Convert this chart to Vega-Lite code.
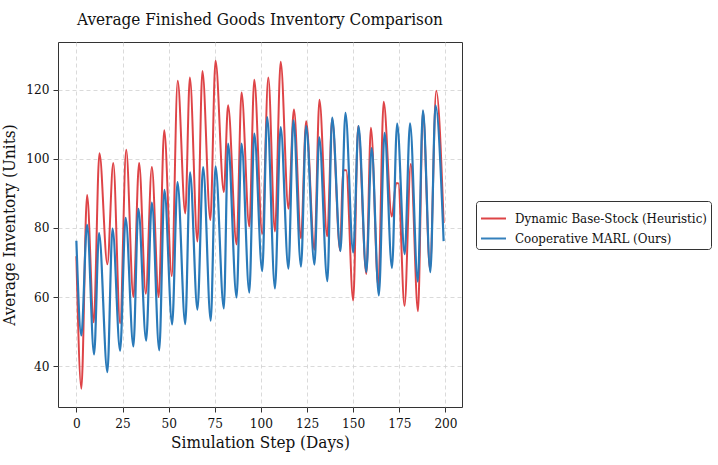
{
  "$schema": "https://vega.github.io/schema/vega-lite/v6.json",
  "width": 404,
  "height": 365,
  "autosize": {"type": "none"},
  "padding": {"left": 58, "top": 42, "right": 256, "bottom": 58},
  "background": "white",
  "title": {"text": "Average Finished Goods Inventory Comparison", "font": "DejaVu Serif Condensed, DejaVu Serif", "fontSize": 17, "fontWeight": "normal", "color": "#111", "anchor": "middle", "offset": 13},
  "config": {
    "view": {"stroke": "#333", "strokeWidth": 1},
    "font": "DejaVu Serif Condensed, DejaVu Serif",
    "axis": {"labelFont": "DejaVu Serif Condensed, DejaVu Serif", "titleFont": "DejaVu Serif Condensed, DejaVu Serif", "labelFontSize": 13.5, "titleFontSize": 17, "titleFontWeight": "normal", "labelColor": "#111", "titleColor": "#111", "grid": true, "gridDash": [4, 3], "gridColor": "#d0d0d0", "gridWidth": 0.8, "domain": false, "tickColor": "#333", "tickSize": 5, "labelPadding": 4}
  },
  "data": {"values": [
    {"step": 0, "value": 71.8, "series": "Dynamic Base-Stock (Heuristic)"},
    {"step": 2.7, "value": 33.5, "series": "Dynamic Base-Stock (Heuristic)"},
    {"step": 5.8, "value": 89.5, "series": "Dynamic Base-Stock (Heuristic)"},
    {"step": 9.4, "value": 52.7, "series": "Dynamic Base-Stock (Heuristic)"},
    {"step": 12.5, "value": 101.6, "series": "Dynamic Base-Stock (Heuristic)"},
    {"step": 16.8, "value": 69.5, "series": "Dynamic Base-Stock (Heuristic)"},
    {"step": 20.0, "value": 98.8, "series": "Dynamic Base-Stock (Heuristic)"},
    {"step": 23.7, "value": 52.4, "series": "Dynamic Base-Stock (Heuristic)"},
    {"step": 27.0, "value": 102.6, "series": "Dynamic Base-Stock (Heuristic)"},
    {"step": 30.9, "value": 60.0, "series": "Dynamic Base-Stock (Heuristic)"},
    {"step": 34.0, "value": 98.8, "series": "Dynamic Base-Stock (Heuristic)"},
    {"step": 37.6, "value": 61.0, "series": "Dynamic Base-Stock (Heuristic)"},
    {"step": 40.9, "value": 97.6, "series": "Dynamic Base-Stock (Heuristic)"},
    {"step": 44.6, "value": 60.0, "series": "Dynamic Base-Stock (Heuristic)"},
    {"step": 47.6, "value": 108.3, "series": "Dynamic Base-Stock (Heuristic)"},
    {"step": 51.7, "value": 66.1, "series": "Dynamic Base-Stock (Heuristic)"},
    {"step": 54.9, "value": 122.6, "series": "Dynamic Base-Stock (Heuristic)"},
    {"step": 59.0, "value": 84.2, "series": "Dynamic Base-Stock (Heuristic)"},
    {"step": 61.5, "value": 123.5, "series": "Dynamic Base-Stock (Heuristic)"},
    {"step": 65.6, "value": 76.1, "series": "Dynamic Base-Stock (Heuristic)"},
    {"step": 68.3, "value": 125.4, "series": "Dynamic Base-Stock (Heuristic)"},
    {"step": 72.6, "value": 82.3, "series": "Dynamic Base-Stock (Heuristic)"},
    {"step": 75.4, "value": 128.4, "series": "Dynamic Base-Stock (Heuristic)"},
    {"step": 79.9, "value": 90.4, "series": "Dynamic Base-Stock (Heuristic)"},
    {"step": 82.2, "value": 115.5, "series": "Dynamic Base-Stock (Heuristic)"},
    {"step": 86.8, "value": 75.2, "series": "Dynamic Base-Stock (Heuristic)"},
    {"step": 89.5, "value": 119.2, "series": "Dynamic Base-Stock (Heuristic)"},
    {"step": 93.7, "value": 80.4, "series": "Dynamic Base-Stock (Heuristic)"},
    {"step": 96.4, "value": 122.9, "series": "Dynamic Base-Stock (Heuristic)"},
    {"step": 100.7, "value": 78.3, "series": "Dynamic Base-Stock (Heuristic)"},
    {"step": 104.0, "value": 123.5, "series": "Dynamic Base-Stock (Heuristic)"},
    {"step": 107.6, "value": 79.0, "series": "Dynamic Base-Stock (Heuristic)"},
    {"step": 110.7, "value": 128.1, "series": "Dynamic Base-Stock (Heuristic)"},
    {"step": 114.9, "value": 85.6, "series": "Dynamic Base-Stock (Heuristic)"},
    {"step": 117.9, "value": 114.3, "series": "Dynamic Base-Stock (Heuristic)"},
    {"step": 121.7, "value": 77.0, "series": "Dynamic Base-Stock (Heuristic)"},
    {"step": 124.5, "value": 110.9, "series": "Dynamic Base-Stock (Heuristic)"},
    {"step": 129.0, "value": 73.7, "series": "Dynamic Base-Stock (Heuristic)"},
    {"step": 131.7, "value": 117.1, "series": "Dynamic Base-Stock (Heuristic)"},
    {"step": 135.9, "value": 77.6, "series": "Dynamic Base-Stock (Heuristic)"},
    {"step": 138.6, "value": 111.5, "series": "Dynamic Base-Stock (Heuristic)"},
    {"step": 142.9, "value": 73.5, "series": "Dynamic Base-Stock (Heuristic)"},
    {"step": 144.5, "value": 96.7, "series": "Dynamic Base-Stock (Heuristic)"},
    {"step": 146.2, "value": 96.7, "series": "Dynamic Base-Stock (Heuristic)"},
    {"step": 150.0, "value": 59.0, "series": "Dynamic Base-Stock (Heuristic)"},
    {"step": 152.7, "value": 109.5, "series": "Dynamic Base-Stock (Heuristic)"},
    {"step": 157.1, "value": 66.7, "series": "Dynamic Base-Stock (Heuristic)"},
    {"step": 159.6, "value": 109.0, "series": "Dynamic Base-Stock (Heuristic)"},
    {"step": 163.6, "value": 63.0, "series": "Dynamic Base-Stock (Heuristic)"},
    {"step": 166.5, "value": 116.5, "series": "Dynamic Base-Stock (Heuristic)"},
    {"step": 170.9, "value": 83.3, "series": "Dynamic Base-Stock (Heuristic)"},
    {"step": 173.3, "value": 92.9, "series": "Dynamic Base-Stock (Heuristic)"},
    {"step": 174.4, "value": 92.9, "series": "Dynamic Base-Stock (Heuristic)"},
    {"step": 177.8, "value": 57.5, "series": "Dynamic Base-Stock (Heuristic)"},
    {"step": 181.2, "value": 98.5, "series": "Dynamic Base-Stock (Heuristic)"},
    {"step": 185.1, "value": 55.9, "series": "Dynamic Base-Stock (Heuristic)"},
    {"step": 187.8, "value": 113.8, "series": "Dynamic Base-Stock (Heuristic)"},
    {"step": 191.6, "value": 68.0, "series": "Dynamic Base-Stock (Heuristic)"},
    {"step": 195.0, "value": 119.7, "series": "Dynamic Base-Stock (Heuristic)"},
    {"step": 199.0, "value": 81.4, "series": "Dynamic Base-Stock (Heuristic)"},
    {"step": 0, "value": 76.3, "series": "Cooperative MARL (Ours)"},
    {"step": 2.7, "value": 48.9, "series": "Cooperative MARL (Ours)"},
    {"step": 5.8, "value": 80.9, "series": "Cooperative MARL (Ours)"},
    {"step": 9.6, "value": 43.4, "series": "Cooperative MARL (Ours)"},
    {"step": 12.3, "value": 78.5, "series": "Cooperative MARL (Ours)"},
    {"step": 16.8, "value": 38.3, "series": "Cooperative MARL (Ours)"},
    {"step": 19.6, "value": 79.8, "series": "Cooperative MARL (Ours)"},
    {"step": 23.7, "value": 44.5, "series": "Cooperative MARL (Ours)"},
    {"step": 26.7, "value": 82.9, "series": "Cooperative MARL (Ours)"},
    {"step": 30.9, "value": 45.7, "series": "Cooperative MARL (Ours)"},
    {"step": 33.6, "value": 85.5, "series": "Cooperative MARL (Ours)"},
    {"step": 37.8, "value": 47.4, "series": "Cooperative MARL (Ours)"},
    {"step": 40.9, "value": 87.3, "series": "Cooperative MARL (Ours)"},
    {"step": 44.9, "value": 44.6, "series": "Cooperative MARL (Ours)"},
    {"step": 47.7, "value": 91.0, "series": "Cooperative MARL (Ours)"},
    {"step": 51.9, "value": 52.1, "series": "Cooperative MARL (Ours)"},
    {"step": 54.8, "value": 93.3, "series": "Cooperative MARL (Ours)"},
    {"step": 59.0, "value": 52.2, "series": "Cooperative MARL (Ours)"},
    {"step": 61.6, "value": 96.1, "series": "Cooperative MARL (Ours)"},
    {"step": 65.6, "value": 56.4, "series": "Cooperative MARL (Ours)"},
    {"step": 68.7, "value": 97.6, "series": "Cooperative MARL (Ours)"},
    {"step": 72.8, "value": 53.2, "series": "Cooperative MARL (Ours)"},
    {"step": 75.4, "value": 97.8, "series": "Cooperative MARL (Ours)"},
    {"step": 79.9, "value": 56.7, "series": "Cooperative MARL (Ours)"},
    {"step": 82.2, "value": 104.4, "series": "Cooperative MARL (Ours)"},
    {"step": 86.8, "value": 59.9, "series": "Cooperative MARL (Ours)"},
    {"step": 89.5, "value": 104.4, "series": "Cooperative MARL (Ours)"},
    {"step": 93.7, "value": 61.3, "series": "Cooperative MARL (Ours)"},
    {"step": 96.4, "value": 107.3, "series": "Cooperative MARL (Ours)"},
    {"step": 100.7, "value": 67.5, "series": "Cooperative MARL (Ours)"},
    {"step": 103.4, "value": 112.1, "series": "Cooperative MARL (Ours)"},
    {"step": 107.6, "value": 62.5, "series": "Cooperative MARL (Ours)"},
    {"step": 110.7, "value": 109.2, "series": "Cooperative MARL (Ours)"},
    {"step": 114.9, "value": 68.2, "series": "Cooperative MARL (Ours)"},
    {"step": 117.6, "value": 111.1, "series": "Cooperative MARL (Ours)"},
    {"step": 121.7, "value": 68.8, "series": "Cooperative MARL (Ours)"},
    {"step": 124.5, "value": 109.5, "series": "Cooperative MARL (Ours)"},
    {"step": 129.0, "value": 69.4, "series": "Cooperative MARL (Ours)"},
    {"step": 131.6, "value": 106.2, "series": "Cooperative MARL (Ours)"},
    {"step": 136.0, "value": 64.6, "series": "Cooperative MARL (Ours)"},
    {"step": 138.6, "value": 111.9, "series": "Cooperative MARL (Ours)"},
    {"step": 143.1, "value": 73.3, "series": "Cooperative MARL (Ours)"},
    {"step": 145.8, "value": 113.3, "series": "Cooperative MARL (Ours)"},
    {"step": 150.0, "value": 72.9, "series": "Cooperative MARL (Ours)"},
    {"step": 152.9, "value": 109.5, "series": "Cooperative MARL (Ours)"},
    {"step": 157.1, "value": 67.3, "series": "Cooperative MARL (Ours)"},
    {"step": 160.0, "value": 103.1, "series": "Cooperative MARL (Ours)"},
    {"step": 163.9, "value": 60.5, "series": "Cooperative MARL (Ours)"},
    {"step": 167.0, "value": 107.5, "series": "Cooperative MARL (Ours)"},
    {"step": 171.0, "value": 68.4, "series": "Cooperative MARL (Ours)"},
    {"step": 173.8, "value": 110.2, "series": "Cooperative MARL (Ours)"},
    {"step": 177.9, "value": 72.4, "series": "Cooperative MARL (Ours)"},
    {"step": 180.8, "value": 110.3, "series": "Cooperative MARL (Ours)"},
    {"step": 185.0, "value": 64.5, "series": "Cooperative MARL (Ours)"},
    {"step": 187.8, "value": 114.0, "series": "Cooperative MARL (Ours)"},
    {"step": 191.8, "value": 67.2, "series": "Cooperative MARL (Ours)"},
    {"step": 194.6, "value": 115.5, "series": "Cooperative MARL (Ours)"},
    {"step": 199.0, "value": 76.2, "series": "Cooperative MARL (Ours)"}
  ]},
  "encoding": {
    "x": {"field": "step", "type": "quantitative", "scale": {"domain": [-9.95, 208.95], "nice": false, "zero": false}, "axis": {"values": [0, 25, 50, 75, 100, 125, 150, 175, 200], "title": "Simulation Step (Days)", "titlePadding": 5}},
    "y": {"field": "value", "type": "quantitative", "scale": {"domain": [28.2, 133.8], "nice": false, "zero": false}, "axis": {"values": [40, 60, 80, 100, 120], "title": "Average Inventory (Units)", "titlePadding": 7}},
    "color": {"field": "series", "type": "nominal", "scale": {"domain": ["Dynamic Base-Stock (Heuristic)", "Cooperative MARL (Ours)"], "range": ["#dc3a3d", "#2a7ab9"]},
      "legend": {"title": null, "orient": "none", "legendX": 418, "legendY": 159, "symbolType": "stroke", "symbolSize": 625, "symbolStrokeWidth": 2, "labelFont": "DejaVu Serif Condensed, DejaVu Serif", "labelFontSize": 13.2, "labelLimit": 400, "labelColor": "#111", "strokeColor": "#333", "fillColor": "white", "padding": 4, "cornerRadius": 3, "rowPadding": -4, "labelOffset": 8}}
  },
  "layer": [
    {"transform": [{"filter": "datum.series === 'Dynamic Base-Stock (Heuristic)'"}], "mark": {"type": "line", "strokeWidth": 2, "interpolate": "monotone", "opacity": 0.95}},
    {"transform": [{"filter": "datum.series === 'Cooperative MARL (Ours)'"}], "mark": {"type": "line", "strokeWidth": 2.2, "interpolate": "monotone"}}
  ]
}
